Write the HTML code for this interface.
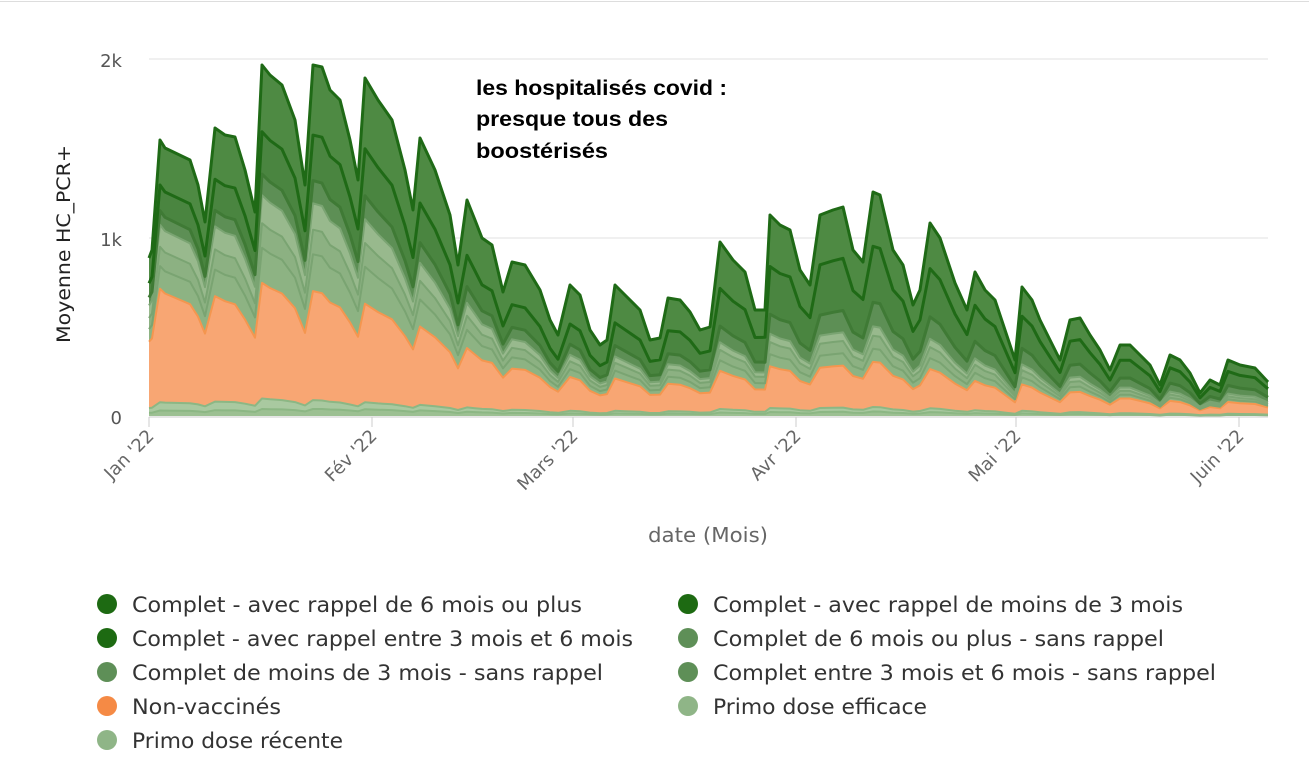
<!DOCTYPE html>
<html><head><meta charset="utf-8"><style>
body{margin:0;background:#fff;width:1309px;height:780px;overflow:hidden;font-family:"DejaVu Sans","Liberation Sans",sans-serif}
</style></head><body>
<svg id="s" width="1309" height="780" xmlns="http://www.w3.org/2000/svg">
<line x1="0" y1="1.5" x2="1309" y2="1.5" stroke="#ddd"/>
<line x1="149" y1="59" x2="1268" y2="59" stroke="#e0e0e0"/>
<line x1="149" y1="238" x2="1268" y2="238" stroke="#e0e0e0"/>
<g id="areas"></g>
<line x1="149" y1="417" x2="1268" y2="417" stroke="#ccc"/>
<g stroke="#ccc"><line x1="149" y1="417" x2="149" y2="427"/><line x1="372" y1="417" x2="372" y2="427"/><line x1="573" y1="417" x2="573" y2="427"/><line x1="796" y1="417" x2="796" y2="427"/><line x1="1016" y1="417" x2="1016" y2="427"/><line x1="1239" y1="417" x2="1239" y2="427"/></g>
<g font-size="18" fill="#555" text-anchor="end">
<text x="122" y="67">2k</text><text x="122" y="246">1k</text><text x="122" y="424">0</text>
</g>
<text transform="translate(70,244) rotate(-90)" font-size="19" fill="#222" text-anchor="middle" textLength="198" lengthAdjust="spacingAndGlyphs">Moyenne HC_PCR+</text>
<g font-size="18" fill="#666" text-anchor="end">
<text transform="translate(155,437) rotate(-45)">Jan '22</text>
<text transform="translate(378,437) rotate(-45)">Fév '22</text>
<text transform="translate(579,437) rotate(-45)">Mars '22</text>
<text transform="translate(802,437) rotate(-45)">Avr '22</text>
<text transform="translate(1022,437) rotate(-45)">Mai '22</text>
<text transform="translate(1245,437) rotate(-45)">Juin '22</text>
</g>
<text x="648" y="542" font-size="20" fill="#666" textLength="120" lengthAdjust="spacingAndGlyphs">date (Mois)</text>
<g font-size="21" font-weight="bold" fill="#000" font-family="Liberation Sans, sans-serif">
<text x="476" y="95" textLength="251" lengthAdjust="spacingAndGlyphs">les hospitalisés covid :</text>
<text x="476" y="126" textLength="192" lengthAdjust="spacingAndGlyphs">presque tous des</text>
<text x="476" y="158" textLength="132" lengthAdjust="spacingAndGlyphs">boostérisés</text>
</g>
<g font-size="21" fill="#333">
<circle cx="107" cy="604" r="10" fill="#1d6a12"/><text x="132" y="612" textLength="450" lengthAdjust="spacingAndGlyphs">Complet - avec rappel de 6 mois ou plus</text>
<circle cx="107" cy="638" r="10" fill="#1d6a12"/><text x="132" y="646" textLength="501" lengthAdjust="spacingAndGlyphs">Complet - avec rappel entre 3 mois et 6 mois</text>
<circle cx="107" cy="672" r="10" fill="#5e8f57"/><text x="132" y="680" textLength="471" lengthAdjust="spacingAndGlyphs">Complet de moins de 3 mois - sans rappel</text>
<circle cx="107" cy="706" r="10" fill="#f58a45"/><text x="132" y="714" textLength="149" lengthAdjust="spacingAndGlyphs">Non-vaccinés</text>
<circle cx="107" cy="740" r="10" fill="#8fb587"/><text x="132" y="748" textLength="211" lengthAdjust="spacingAndGlyphs">Primo dose récente</text>
<circle cx="688" cy="604" r="10" fill="#1d6a12"/><text x="713" y="612" textLength="470" lengthAdjust="spacingAndGlyphs">Complet - avec rappel de moins de 3 mois</text>
<circle cx="688" cy="638" r="10" fill="#5e8f57"/><text x="713" y="646" textLength="451" lengthAdjust="spacingAndGlyphs">Complet de 6 mois ou plus - sans rappel</text>
<circle cx="688" cy="672" r="10" fill="#5e8f57"/><text x="713" y="680" textLength="503" lengthAdjust="spacingAndGlyphs">Complet entre 3 mois et 6 mois - sans rappel</text>
<circle cx="688" cy="706" r="10" fill="#8fb587"/><text x="713" y="714" textLength="214" lengthAdjust="spacingAndGlyphs">Primo dose efficace</text>
</g>
</svg>
<script>
var top_=[[149,258],[152,250],[160,140],[165,148],[190,160],[198,185],[205,222],[215,128],[225,135],[235,137],[245,170],[255,212],[262,65],[270,75],[282,85],[295,120],[305,185],[313,65],[322,67],[330,90],[340,100],[350,140],[358,180],[365,78],[378,100],[392,120],[405,170],[413,210],[420,138],[435,170],[450,215],[458,265],[467,200],[475,220],[482,238],[492,245],[503,292],[512,262],[525,265],[540,290],[550,320],[558,335],[570,285],[580,295],[590,330],[600,345],[607,340],[615,285],[625,295],[640,310],[650,340],[660,338],[668,298],[680,300],[690,312],[700,330],[710,327],[720,242],[733,260],[745,272],[755,310],[765,310],[770,215],[780,225],[790,230],[800,270],[810,285],[820,215],[833,210],[843,207],[853,250],[863,262],[873,192],[880,195],[893,250],[903,265],[913,305],[920,290],[930,223],[940,238],[955,283],[967,310],[975,272],[985,290],[995,300],[1005,330],[1015,360],[1022,287],[1032,300],[1040,320],[1050,340],[1060,360],[1070,320],[1080,318],[1090,335],[1100,350],[1110,370],[1120,345],[1130,345],[1140,355],[1150,365],[1160,385],[1170,355],[1180,360],[1190,373],[1200,393],[1210,380],[1220,385],[1228,360],[1240,365],[1255,368],[1268,382]];
var fr=[[149,[0.02,0.05,0.47,0.55,0.62,0.70,0.75,0.84,1]],[260,[0.02,0.05,0.38,0.48,0.55,0.63,0.69,0.81,1]],[370,[0.02,0.04,0.33,0.44,0.51,0.58,0.65,0.79,1]],[560,[0.02,0.04,0.30,0.36,0.42,0.47,0.55,0.70,1]],[800,[0.02,0.04,0.24,0.30,0.36,0.40,0.50,0.75,1]],[1268,[0.02,0.04,0.25,0.30,0.35,0.40,0.55,0.80,1]]];
function f(x,i){for(var k=0;k<fr.length-1;k++){if(x<=fr[k+1][0]){var t=(x-fr[k][0])/(fr[k+1][0]-fr[k][0]);return fr[k][1][i]*(1-t)+fr[k+1][1][i]*t;}}return fr[fr.length-1][1][i];}
var B=416;
var fills=["#9cc092","#a9c9a0","#f8a673","#8db383","#8cb182","#98b98d","#5d8f55","#4a8540","#4e8a43"];
var strokes=["#8cb784","#8cb784","#f4964f","#7aa472","#7aa472","#7aa472","#3f7a35","#1f6a16","#1f6a16"];
var g=document.getElementById('areas'),h='';
function yy(p,i){return B-(B-p[1])*f(p[0],i);}
for(var i=8;i>=0;i--){
 var d='M'+top_[0][0]+','+B;
 top_.forEach(function(p){d+=' L'+p[0]+','+yy(p,i).toFixed(1);});
 d+=' L1268,'+B+' Z';
 h+='<path d="'+d+'" fill="'+fills[i]+'"/>';
}
for(var i=0;i<9;i++){
 var d='';top_.forEach(function(p,k){d+=(k?' L':'M')+p[0]+','+yy(p,i).toFixed(1);});
 h+='<path d="'+d+'" fill="none" stroke="'+strokes[i]+'" stroke-width="'+(i>=6?3:2)+'" stroke-linejoin="round"/>';
}
g.innerHTML=h;
</script>
</body></html>
